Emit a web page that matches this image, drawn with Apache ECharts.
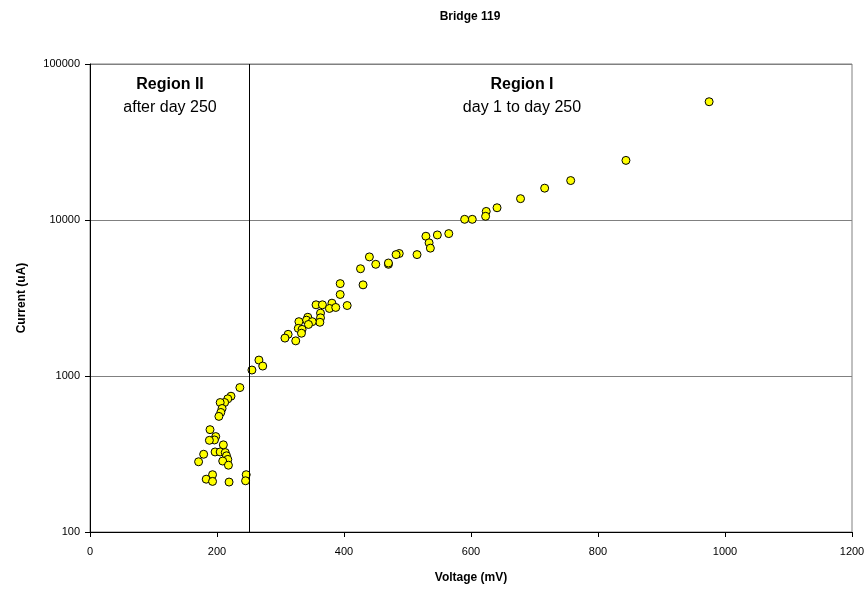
<!DOCTYPE html>
<html><head><meta charset="utf-8">
<script src="https://cdn.jsdelivr.net/npm/echarts@6/dist/echarts.min.js"></script>
<style>html,body{margin:0;padding:0;background:#fff}#c{width:868px;height:589px}</style>
</head><body><div id="c"></div>
<script>
const title = "Bridge 119";
const xName = "Voltage (mV)";
const yName = "Current (uA)";
const voltage = [975,844,757,716,678,641,624,623,602,590,565,547,529,534,536,515,487,482,470,470,450,440,426,394,430,394,356,366,381,377,387,405,363,363,362,343,341,350,344,329,328,334,333,312,307,324,255,266,272,236,222,217,212,205,208,206,203,189,198,196,188,210,197,205,213,215,217,209,218,179,171,193,183,193,219,246,245];
const current = [57300,24100,17900,16000,13700,11980,11350,10560,10100,10100,8180,8020,7870,7140,6600,6000,6100,6000,5200,5300,5200,5800,4870,3910,3840,3330,2860,2860,2930,2710,2750,2830,2530,2360,2210,2380,2280,2230,2140,2230,2020,1990,1880,1850,1750,1680,1092,1265,1158,843,742,714,676,676,619,584,551,453,409,389,387,362,326,326,323,308,292,285,268,315,282,233,218,211,209,233,213];
const boundary = 250;
const regionTexts = [
  {x: 170, title: "Region II", sub: "after day 250"},
  {x: 522, title: "Region I", sub: "day 1 to day 250"}
];
const chart = echarts.init(document.getElementById('c'));
const pts = voltage.map((v,i)=>[v,current[i]]);
const graphics = [{type:'text', style:{x:470, y:11, text:title, font:'bold 12px "Liberation Sans", Arial, sans-serif', fill:'#000', align:'center', textAlign:'center'}}];
regionTexts.forEach(r=>{
  graphics.push({type:'text', style:{x:r.x, y:77, text:r.title, font:'bold 16px "Liberation Sans", Arial, sans-serif', fill:'#000', align:'center', textAlign:'center'}});
  graphics.push({type:'text', style:{x:r.x, y:100, text:r.sub, font:'16px "Liberation Sans", Arial, sans-serif', fill:'#000', align:'center', textAlign:'center'}});
});
chart.setOption({
  animation:false,
  grid:{left:90,right:16,top:64,bottom:52,show:true,borderColor:'#808080',borderWidth:1,backgroundColor:'transparent'},
  xAxis:{type:'value',min:0,max:1200,interval:200,name:xName,nameLocation:'middle',nameGap:40,
    nameTextStyle:{fontFamily:'Liberation Sans, Arial',fontSize:12,fontWeight:'bold',color:'#000'},
    axisLine:{lineStyle:{color:'#000'}},axisTick:{show:true,length:5,lineStyle:{color:'#000'}},
    axisLabel:{fontFamily:'Liberation Sans, Arial',fontSize:11,color:'#000',margin:14,formatter:v=>String(v)},splitLine:{show:false}},
  yAxis:{type:'log',logBase:10,min:100,max:100000,name:yName,nameLocation:'middle',nameGap:62,
    nameTextStyle:{fontFamily:'Liberation Sans, Arial',fontSize:12,fontWeight:'bold',color:'#000'},
    axisLine:{show:true,lineStyle:{color:'#000'}},axisTick:{show:true,length:5,lineStyle:{color:'#000'}},
    axisLabel:{fontFamily:'Liberation Sans, Arial',fontSize:11,color:'#000',margin:10,formatter:v=>String(Math.round(v))},
    splitLine:{show:true,lineStyle:{color:'#808080',width:1}},minorTick:{show:false}},
  series:[{type:'scatter',data:pts,symbol:'circle',symbolSize:8,
    itemStyle:{color:'#FFFF00',borderColor:'#000',borderWidth:1,opacity:1},
    markLine:{silent:true,symbol:'none',label:{show:false},lineStyle:{color:'#000',type:'solid',width:1},data:[{xAxis:boundary}]}}],
  graphic:graphics
});
</script></body></html>
